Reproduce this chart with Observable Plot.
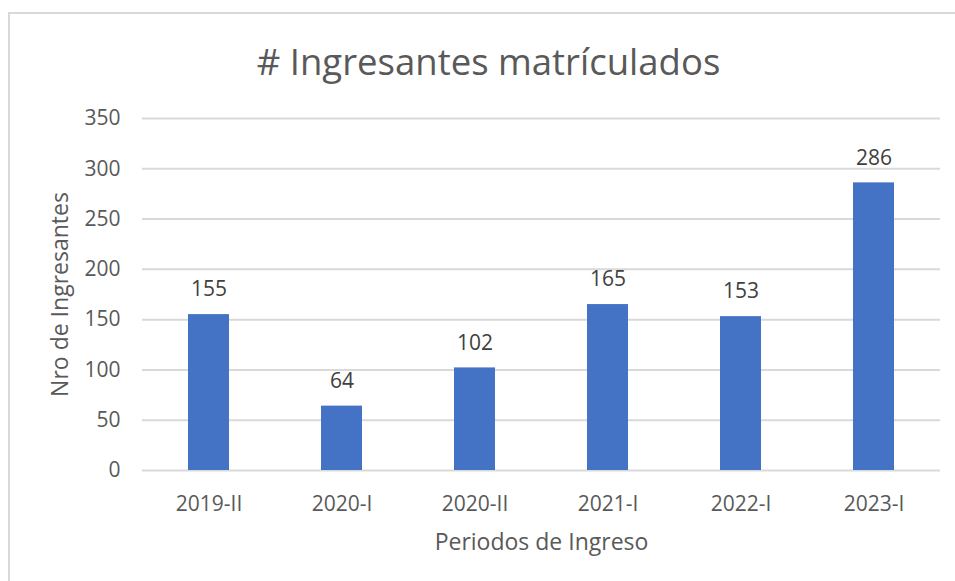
<!DOCTYPE html>
<html>
<head>
<meta charset="utf-8">
<script src="https://cdn.jsdelivr.net/npm/d3@7"></script>
<script src="https://cdn.jsdelivr.net/npm/@observablehq/plot@0.6"></script>
<style>
  html, body { margin: 0; padding: 0; background: #fff; }
  #wrap { position: relative; width: 955px; height: 581px; overflow: hidden; font-family: "Open Sans", sans-serif; }
  #frame { position: absolute; left: 8px; top: 12px; width: 1000px; height: 1000px; border-left: 2px solid #d9d9d9; border-top: 2px solid #d9d9d9; box-sizing: border-box; }
  #title { position: absolute; left: 22px; width: 933px; top: 16px; height: 90px; line-height: 90px; text-align: center; font-size: 36.5px; color: #595959; margin: 0; font-weight: normal; }
  #chart { position: absolute; left: 0; top: 0; }
</style>
</head>
<body>
<div id="wrap">
  <div id="frame"></div>
  <div id="chart"></div>
  <h2 id="title"># Ingresantes matrículados</h2>
</div>
<script>
const periods = ["2019-II", "2020-I", "2020-II", "2021-I", "2022-I", "2023-I"];
const ingresantes = [155, 64, 102, 165, 153, 286];
const yTicks = [0, 50, 100, 150, 200, 250, 300, 350];

const data = periods.map((p, i) => ({periodo: p, n: ingresantes[i]}));

const chart = Plot.plot({
  width: 955,
  height: 581,
  marginTop: 118,
  marginBottom: 111,
  marginLeft: 142,
  marginRight: 15,
  style: { fontFamily: "Open Sans, sans-serif", color: "#595959", background: "transparent", overflow: "visible" },
  x: { domain: periods, paddingInner: 0.69, paddingOuter: 0.345, label: null },
  y: { domain: [0, 350], ticks: yTicks, label: null },
  marks: [
    Plot.gridY(yTicks, { stroke: "#d9d9d9", strokeOpacity: 1, strokeWidth: 2 }),
    Plot.barY(data, { x: "periodo", y: "n", fill: "#4472c4" }),
    Plot.text(data, { x: "periodo", y: "n", text: d => String(d.n), dy: -25, fontSize: 21, fill: "#404040" }),
    Plot.axisX({ tickSize: 0, tickPadding: 26, fontSize: 21, label: null }),
    Plot.axisY(yTicks, { tickSize: 0, tickPadding: 22, fontSize: 21, label: null }),
    Plot.text(["Periodos de Ingreso"], { frameAnchor: "bottom", dy: 79, fontSize: 23, fill: "#595959" }),
    Plot.text(["Nro de Ingresantes"], { frameAnchor: "left", textAnchor: "middle", dx: -82, rotate: -90, fontSize: 23, fill: "#595959" })
  ]
});
chart.querySelectorAll("g[aria-label='x-axis tick label'] text, g[aria-label='y-axis tick label'] text").forEach(t => t.setAttribute("fill", "#595959"));
document.getElementById("chart").appendChild(chart);
</script>
</body>
</html>
